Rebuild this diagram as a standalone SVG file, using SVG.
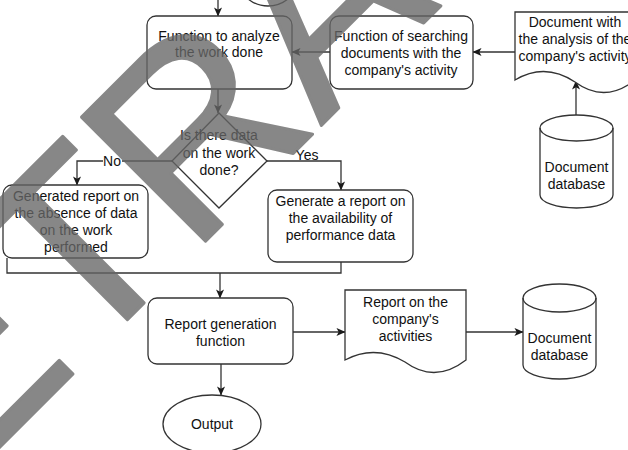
<svg xmlns="http://www.w3.org/2000/svg" width="628" height="450" viewBox="0 0 628 450">
<defs>
<marker id="arr" viewBox="0 0 10 10" refX="9.5" refY="5" markerWidth="9" markerHeight="9" markerUnits="userSpaceOnUse" orient="auto"><path d="M0,0.5 L10,5 L0,9.5 L2.5,5 Z" fill="#1a1a1a"/></marker>
<style>
.n{fill:#fff;stroke:#333;stroke-width:1.3}
.c{fill:none;stroke:#333;stroke-width:1.3}
.a{marker-end:url(#arr)}
.t{font-family:"Liberation Sans",Arial,sans-serif;font-size:14px;fill:#111;text-anchor:middle}
.wm{font-family:"Liberation Sans",Arial,sans-serif;font-size:255px;fill:#666;stroke:#666;stroke-width:3;stroke-linejoin:round;opacity:.78}
</style>
</defs>
<rect width="628" height="450" fill="#fff"/>
<g id="connectors">
<path class="c a" d="M218,-2 V16"/>
<path class="c a" d="M330,52 H292"/>
<path class="c a" d="M515,52 H473"/>
<path class="c a" d="M576,115 V81"/>
<path class="c a" d="M218,89 V113"/>
<path class="c a" d="M172,161 H77 V185"/>
<path class="c a" d="M267,161 H341 V190"/>
<path class="c" d="M7,258 V273 H341 V262"/>
<path class="c a" d="M220,273 V298"/>
<path class="c a" d="M293,332 H345"/>
<path class="c a" d="M466,332 H523"/>
<path class="c a" d="M221,364 V395"/>
<rect x="103" y="154" width="19" height="14" fill="#fff"/>
<text class="t" x="112" y="166">No</text>
<text class="t" x="307" y="160">Yes</text>
</g>
<g id="top-node"><ellipse class="n" cx="268" cy="-22" rx="30" ry="28"/></g>
<g id="analyze">
<rect class="n" x="147" y="16" width="145" height="73" rx="9"/>
<text class="t" x="219" y="41">Function to analyze</text>
<text class="t" x="219" y="57">the work done</text>
</g>
<g id="search">
<rect class="n" x="330" y="16" width="143" height="73" rx="9"/>
<text class="t" x="401" y="40.5">Function of searching</text>
<text class="t" x="401" y="57.5">documents with the</text>
<text class="t" x="401" y="74.5">company's activity</text>
</g>
<g id="doc-analysis">
<path class="n" d="M515,12 H635 V80 Q605,104 575,82 Q545,62 515,80 Z"/>
<text class="t" x="575" y="27">Document with</text>
<text class="t" x="575" y="44">the analysis of the</text>
<text class="t" x="575" y="61">company's activity</text>
</g>
<g id="db1">
<path class="n" d="M540,128 A36.5,13 0 0 1 613,128 V195 A36.5,13 0 0 1 540,195 Z"/>
<path class="c" d="M540,128 A36.5,13 0 0 0 613,128"/>
<text class="t" x="576.5" y="172">Document</text>
<text class="t" x="576.5" y="189">database</text>
</g>
<g id="decision">
<polygon class="n" points="219,113 267,161 219,208 172,161"/>
<text class="t" x="219" y="140">Is there data</text>
<text class="t" x="219" y="157.5">on the work</text>
<text class="t" x="219" y="175">done?</text>
</g>
<g id="no-data">
<rect class="n" x="3" y="185" width="145" height="73" rx="9"/>
<text class="t" x="76" y="200.5">Generated report on</text>
<text class="t" x="76" y="217.5">the absence of data</text>
<text class="t" x="76" y="234.5">on the work</text>
<text class="t" x="76" y="251.5">performed</text>
</g>
<g id="availability">
<rect class="n" x="268" y="190" width="145" height="72" rx="9"/>
<text class="t" x="340.5" y="205.5">Generate a report on</text>
<text class="t" x="340.5" y="222.5">the availability of</text>
<text class="t" x="340.5" y="239.5">performance data</text>
</g>
<g id="report-gen">
<rect class="n" x="148" y="298" width="145" height="66" rx="9"/>
<text class="t" x="220.5" y="328.5">Report generation</text>
<text class="t" x="220.5" y="345.5">function</text>
</g>
<g id="doc-report">
<path class="n" d="M345,290 H466 V360 Q435,384 405,362 Q375,344 345,360 Z"/>
<text class="t" x="405.5" y="307">Report on the</text>
<text class="t" x="405.5" y="324">company's</text>
<text class="t" x="405.5" y="341">activities</text>
</g>
<g id="db2">
<path class="n" d="M523,298 A36.5,14 0 0 1 596,298 V365 A36.5,14 0 0 1 523,365 Z"/>
<path class="c" d="M523,298 A36.5,14 0 0 0 596,298"/>
<text class="t" x="559.5" y="343">Document</text>
<text class="t" x="559.5" y="360">database</text>
</g>
<g id="output">
<ellipse class="n" cx="212" cy="424" rx="49" ry="29"/>
<text class="t" x="212" y="429">Output</text>
</g>
<g id="watermark">
<text class="wm" x="-372" y="316" transform="rotate(-45)">ETRA</text>
</g>
</svg>
